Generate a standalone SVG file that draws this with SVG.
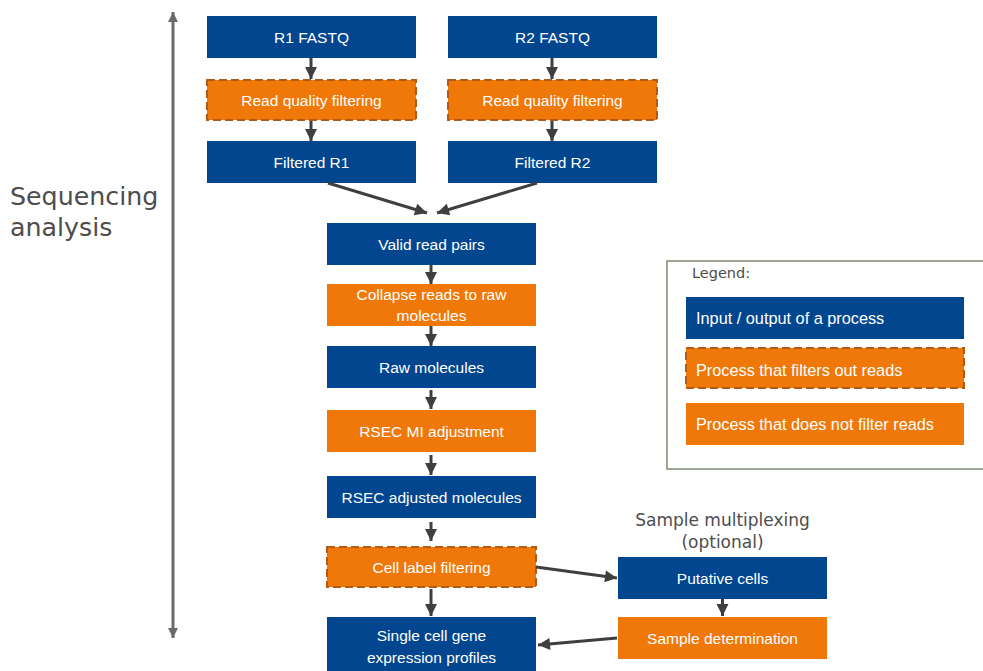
<svg xmlns="http://www.w3.org/2000/svg" width="983" height="671" viewBox="0 0 983 671">
  <style>
    .io { fill: #02468f; }
    .proc { fill: #f07809; }
    .filt { fill: #f07809; stroke: #b35a14; stroke-width: 2; stroke-dasharray: 8 4; }
    .lbl { font-family: "Liberation Sans", Arial, sans-serif; font-size: 15.5px; fill: #ffffff; text-anchor: middle; }
    .lgl { font-family: "Liberation Sans", Arial, sans-serif; font-size: 16.3px; fill: #ffffff; }
    .side { font-family: "DejaVu Sans", Verdana, sans-serif; fill: #4d4d4d; }
    .edge { stroke: #3f3f3f; stroke-width: 3; fill: none; marker-end: url(#ah); }
  </style>
  <defs>
    <marker id="ah" markerUnits="userSpaceOnUse" markerWidth="14" markerHeight="14" viewBox="0 0 14 14" refX="13" refY="7" orient="auto">
      <path d="M1,1 L13,7 L1,13 Z" fill="#3f3f3f"/>
    </marker>
    <marker id="ga" markerUnits="userSpaceOnUse" markerWidth="12" markerHeight="12" viewBox="0 0 12 12" refX="11" refY="6" orient="auto-start-reverse">
      <path d="M1,1 L11,6 L1,11 Z" fill="#6b6b6b"/>
    </marker>
  </defs>

  <rect width="983" height="671" fill="#ffffff"/>

  <!-- side scale -->
  <g id="scale">
    <line x1="173" y1="12" x2="173" y2="638" stroke="#6b6b6b" stroke-width="3" marker-start="url(#ga)" marker-end="url(#ga)"/>
    <text class="side" x="10" y="205" font-size="25.3">Sequencing</text>
    <text class="side" x="10" y="236" font-size="25.3">analysis</text>
  </g>

  <!-- legend -->
  <g id="legend">
    <rect x="667" y="261" width="330" height="208" fill="#ffffff" stroke="#7d8b72" stroke-width="1.5"/>
    <text class="side" x="692" y="278" font-size="14.5" fill="#333333">Legend:</text>
    <rect class="io" x="686" y="297" width="278" height="42"/>
    <text class="lgl" x="696" y="324">Input / output of a process</text>
    <rect class="filt" x="686" y="348" width="278" height="40"/>
    <text class="lgl" x="696" y="376">Process that filters out reads</text>
    <rect class="proc" x="686" y="403" width="278" height="42"/>
    <text class="lgl" x="696" y="430">Process that does not filter reads</text>
  </g>

  <!-- nodes -->
  <g id="r1-fastq">
    <rect class="io" x="207" y="16" width="209" height="42"/>
    <text class="lbl" x="311.5" y="42.5">R1 FASTQ</text>
  </g>
  <g id="r2-fastq">
    <rect class="io" x="448" y="16" width="209" height="42"/>
    <text class="lbl" x="552.5" y="42.5">R2 FASTQ</text>
  </g>
  <g id="r1-quality">
    <rect class="filt" x="207" y="80" width="209" height="40"/>
    <text class="lbl" x="311.5" y="105.5">Read quality filtering</text>
  </g>
  <g id="r2-quality">
    <rect class="filt" x="448" y="80" width="209" height="40"/>
    <text class="lbl" x="552.5" y="105.5">Read quality filtering</text>
  </g>
  <g id="filtered-r1">
    <rect class="io" x="207" y="141" width="209" height="42"/>
    <text class="lbl" x="311.5" y="167.5">Filtered R1</text>
  </g>
  <g id="filtered-r2">
    <rect class="io" x="448" y="141" width="209" height="42"/>
    <text class="lbl" x="552.5" y="167.5">Filtered R2</text>
  </g>
  <g id="valid-pairs">
    <rect class="io" x="327" y="223" width="209" height="42"/>
    <text class="lbl" x="431.5" y="249.5">Valid read pairs</text>
  </g>
  <g id="collapse">
    <rect class="proc" x="327" y="284" width="209" height="42"/>
    <text class="lbl" x="431.5" y="300">Collapse reads to raw</text>
    <text class="lbl" x="431.5" y="321">molecules</text>
  </g>
  <g id="raw-molecules">
    <rect class="io" x="327" y="346" width="209" height="42"/>
    <text class="lbl" x="431.5" y="372.5">Raw molecules</text>
  </g>
  <g id="rsec-mi">
    <rect class="proc" x="327" y="410" width="209" height="42"/>
    <text class="lbl" x="431.5" y="436.5">RSEC MI adjustment</text>
  </g>
  <g id="rsec-adjusted">
    <rect class="io" x="327" y="476" width="209" height="42"/>
    <text class="lbl" x="431.5" y="502.5">RSEC adjusted molecules</text>
  </g>
  <g id="cell-label">
    <rect class="filt" x="327" y="547" width="209" height="40"/>
    <text class="lbl" x="431.5" y="572.5">Cell label filtering</text>
  </g>
  <g id="single-cell">
    <rect class="io" x="327" y="617" width="209" height="56"/>
    <text class="lbl" x="431.5" y="641">Single cell gene</text>
    <text class="lbl" x="431.5" y="663">expression profiles</text>
  </g>
  <g id="multiplexing-title">
    <text class="side" x="722.5" y="526" font-size="17" text-anchor="middle" fill="#444444">Sample multiplexing</text>
    <text class="side" x="722.5" y="548" font-size="17" text-anchor="middle" fill="#444444">(optional)</text>
  </g>
  <g id="putative-cells">
    <rect class="io" x="618" y="557" width="209" height="42"/>
    <text class="lbl" x="722.5" y="583.5">Putative cells</text>
  </g>
  <g id="sample-determination">
    <rect class="proc" x="618" y="617" width="209" height="42"/>
    <text class="lbl" x="722.5" y="643.5">Sample determination</text>
  </g>

  <!-- connectors -->
  <g id="connectors">
    <line class="edge" x1="311" y1="58" x2="311" y2="79"/>
    <line class="edge" x1="311" y1="121" x2="311" y2="141"/>
    <line class="edge" x1="552" y1="58" x2="552" y2="79"/>
    <line class="edge" x1="552" y1="121" x2="552" y2="141"/>
    <line class="edge" x1="328" y1="183" x2="427" y2="213"/>
    <line class="edge" x1="537" y1="183" x2="437" y2="213"/>
    <line class="edge" x1="431" y1="265" x2="431" y2="284"/>
    <line class="edge" x1="431" y1="326" x2="431" y2="346"/>
    <line class="edge" x1="431" y1="390" x2="431" y2="409"/>
    <line class="edge" x1="431" y1="455" x2="431" y2="475"/>
    <line class="edge" x1="431" y1="522" x2="431" y2="541"/>
    <line class="edge" x1="431" y1="589" x2="431" y2="616"/>
    <line class="edge" x1="536" y1="567" x2="617" y2="578"/>
    <line class="edge" x1="722.5" y1="599" x2="722.5" y2="616"/>
    <line class="edge" x1="617" y1="638" x2="538" y2="645"/>
  </g>
</svg>
